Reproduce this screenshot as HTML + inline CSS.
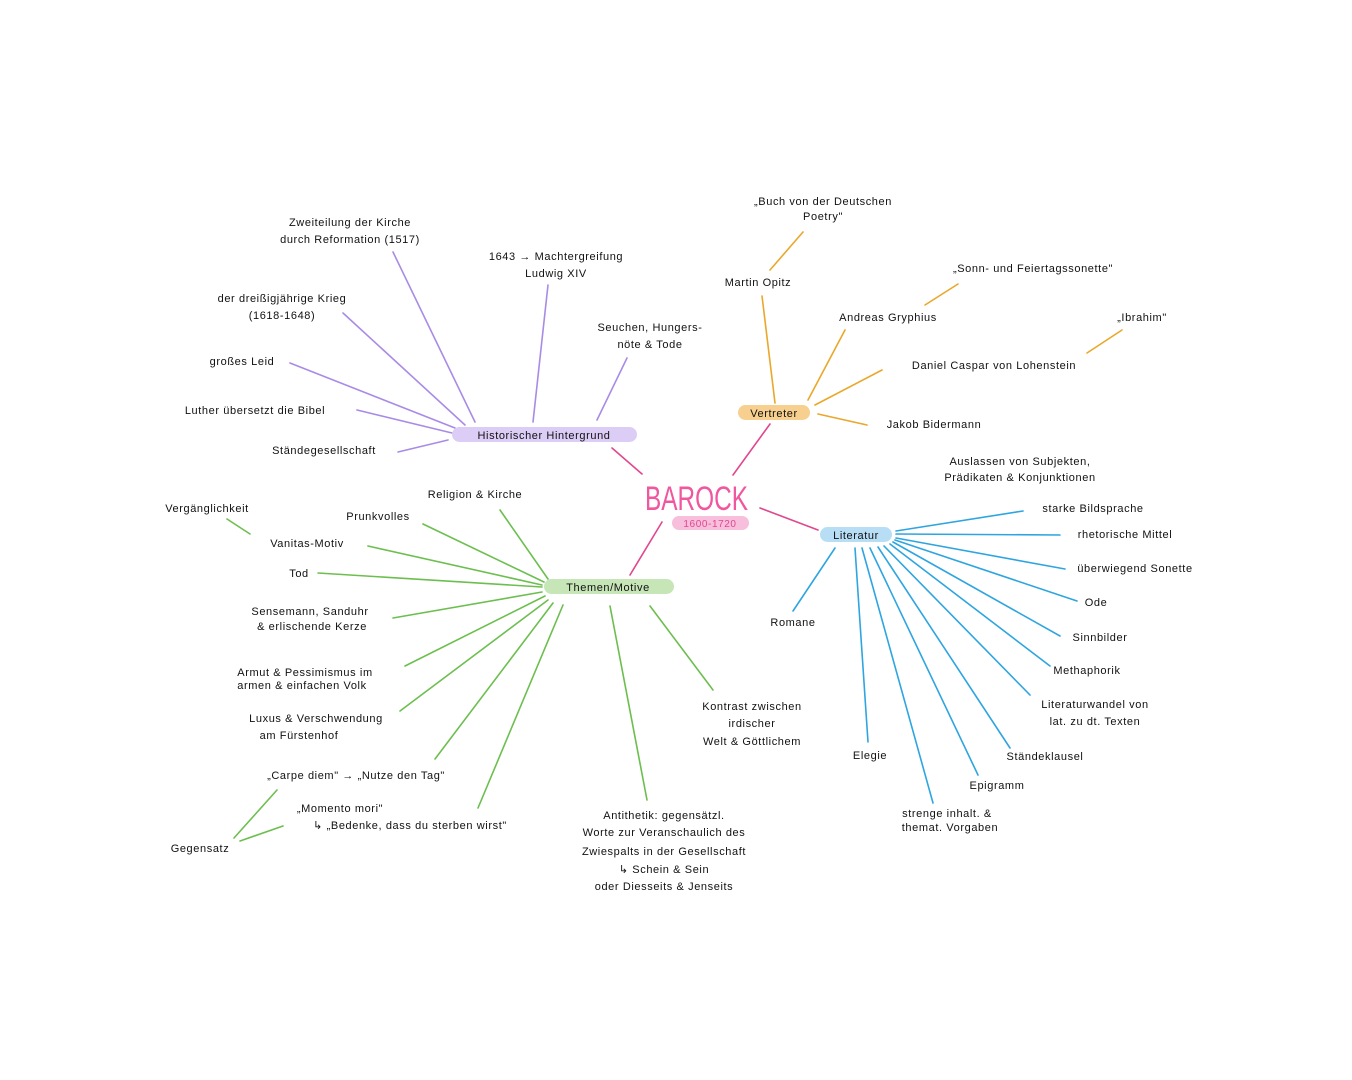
<!DOCTYPE html>
<html><head><meta charset="utf-8"><style>
html,body{margin:0;padding:0;background:#fff;}
svg{display:block;}
text{font-family:"Liberation Sans",sans-serif;font-size:11px;fill:#111;letter-spacing:0.6px;}
</style></head><body>
<svg width="1352" height="1080" viewBox="0 0 1352 1080" xmlns="http://www.w3.org/2000/svg">
<g stroke-linecap="round" fill="none" stroke-width="1.6">
<g stroke="#e0478f">
<line x1="612" y1="448" x2="642" y2="474"/>
<line x1="733" y1="475" x2="770" y2="424"/>
<line x1="760" y1="508" x2="818" y2="530"/>
<line x1="662" y1="522" x2="630" y2="575"/>
</g>
<g stroke="#a98be6">
<line x1="393" y1="252" x2="475" y2="422"/>
<line x1="343" y1="313" x2="465" y2="425"/>
<line x1="290" y1="363" x2="455" y2="428"/>
<line x1="357" y1="410" x2="452" y2="433"/>
<line x1="398" y1="452" x2="448" y2="440"/>
<line x1="548" y1="285" x2="533" y2="422"/>
<line x1="627" y1="358" x2="597" y2="420"/>
</g>
<g stroke="#eaa72a">
<line x1="803" y1="232" x2="770" y2="270"/>
<line x1="762" y1="296" x2="775" y2="403"/>
<line x1="845" y1="330" x2="808" y2="400"/>
<line x1="882" y1="370" x2="815" y2="405"/>
<line x1="818" y1="414" x2="867" y2="425"/>
<line x1="958" y1="284" x2="925" y2="305"/>
<line x1="1122" y1="330" x2="1087" y2="353"/>
</g>
<g stroke="#2ea5e0">
<line x1="896" y1="531" x2="1023" y2="511"/>
<line x1="896" y1="534" x2="1060" y2="535"/>
<line x1="896" y1="538" x2="1065" y2="569"/>
<line x1="895" y1="540" x2="1077" y2="601"/>
<line x1="893" y1="542" x2="1060" y2="636"/>
<line x1="890" y1="544" x2="1050" y2="666"/>
<line x1="884" y1="546" x2="1030" y2="695"/>
<line x1="878" y1="547" x2="1010" y2="748"/>
<line x1="870" y1="548" x2="978" y2="775"/>
<line x1="862" y1="548" x2="933" y2="803"/>
<line x1="855" y1="548" x2="868" y2="742"/>
<line x1="835" y1="548" x2="793" y2="611"/>
</g>
<g stroke="#6cbf4f">
<line x1="500" y1="510" x2="548" y2="579"/>
<line x1="423" y1="524" x2="544" y2="582"/>
<line x1="368" y1="546" x2="542" y2="585"/>
<line x1="318" y1="573" x2="542" y2="587"/>
<line x1="393" y1="618" x2="542" y2="592"/>
<line x1="405" y1="666" x2="545" y2="596"/>
<line x1="400" y1="711" x2="548" y2="600"/>
<line x1="435" y1="759" x2="553" y2="603"/>
<line x1="478" y1="808" x2="563" y2="605"/>
<line x1="610" y1="606" x2="647" y2="800"/>
<line x1="650" y1="606" x2="713" y2="690"/>
<line x1="227" y1="519" x2="250" y2="534"/>
<line x1="234" y1="838" x2="277" y2="790"/>
<line x1="240" y1="841" x2="283" y2="826"/>
</g>
</g>
<rect x="452" y="427" width="185" height="15" rx="7.5" fill="#dccdf6"/>
<text x="544" y="439" text-anchor="middle">Historischer Hintergrund</text>
<rect x="738" y="405" width="72" height="15" rx="7.5" fill="#f7cf8e"/>
<text x="774" y="417" text-anchor="middle">Vertreter</text>
<rect x="820" y="527" width="72" height="15" rx="7.5" fill="#b8def6"/>
<text x="856" y="539" text-anchor="middle">Literatur</text>
<rect x="544" y="579" width="130" height="15" rx="7.5" fill="#c7e6b8"/>
<text x="608" y="591" text-anchor="middle">Themen/Motive</text>
<text x="645" y="510" textLength="103" lengthAdjust="spacingAndGlyphs" style="font-size:34px;fill:#f0579e;letter-spacing:0;">BAROCK</text>
<rect x="672" y="516" width="77" height="14" rx="7" fill="#f7bfdc"/>
<text x="710" y="527" text-anchor="middle" style="fill:#e0478f;font-size:10px;">1600-1720</text>
<text x="350" y="226" text-anchor="middle">Zweiteilung der Kirche</text>
<text x="350" y="243" text-anchor="middle">durch Reformation (1517)</text>
<text x="556" y="260" text-anchor="middle">1643 → Machtergreifung</text>
<text x="556" y="277" text-anchor="middle">Ludwig XIV</text>
<text x="282" y="302" text-anchor="middle">der dreißigjährige Krieg</text>
<text x="282" y="319" text-anchor="middle">(1618-1648)</text>
<text x="242" y="365" text-anchor="middle">großes Leid</text>
<text x="255" y="414" text-anchor="middle">Luther übersetzt die Bibel</text>
<text x="324" y="454" text-anchor="middle">Ständegesellschaft</text>
<text x="650" y="331" text-anchor="middle">Seuchen, Hungers-</text>
<text x="650" y="348" text-anchor="middle">nöte &amp; Tode</text>
<text x="823" y="205" text-anchor="middle">„Buch von der Deutschen</text>
<text x="823" y="220" text-anchor="middle">Poetry"</text>
<text x="758" y="286" text-anchor="middle">Martin Opitz</text>
<text x="1033" y="272" text-anchor="middle">„Sonn- und Feiertagssonette"</text>
<text x="888" y="321" text-anchor="middle">Andreas Gryphius</text>
<text x="1142" y="321" text-anchor="middle">„Ibrahim"</text>
<text x="994" y="369" text-anchor="middle">Daniel Caspar von Lohenstein</text>
<text x="934" y="428" text-anchor="middle">Jakob Bidermann</text>
<text x="1020" y="465" text-anchor="middle">Auslassen von Subjekten,</text>
<text x="1020" y="481" text-anchor="middle">Prädikaten &amp; Konjunktionen</text>
<text x="1093" y="512" text-anchor="middle">starke Bildsprache</text>
<text x="1125" y="538" text-anchor="middle">rhetorische Mittel</text>
<text x="1135" y="572" text-anchor="middle">überwiegend Sonette</text>
<text x="1096" y="606" text-anchor="middle">Ode</text>
<text x="1100" y="641" text-anchor="middle">Sinnbilder</text>
<text x="1087" y="674" text-anchor="middle">Methaphorik</text>
<text x="1095" y="708" text-anchor="middle">Literaturwandel von</text>
<text x="1095" y="725" text-anchor="middle">lat. zu dt. Texten</text>
<text x="1045" y="760" text-anchor="middle">Ständeklausel</text>
<text x="997" y="789" text-anchor="middle">Epigramm</text>
<text x="947" y="817" text-anchor="middle">strenge inhalt. &amp;</text>
<text x="950" y="831" text-anchor="middle">themat. Vorgaben</text>
<text x="870" y="759" text-anchor="middle">Elegie</text>
<text x="793" y="626" text-anchor="middle">Romane</text>
<text x="475" y="498" text-anchor="middle">Religion &amp; Kirche</text>
<text x="378" y="520" text-anchor="middle">Prunkvolles</text>
<text x="207" y="512" text-anchor="middle">Vergänglichkeit</text>
<text x="307" y="547" text-anchor="middle">Vanitas-Motiv</text>
<text x="299" y="577" text-anchor="middle">Tod</text>
<text x="310" y="615" text-anchor="middle">Sensemann, Sanduhr</text>
<text x="312" y="630" text-anchor="middle">&amp; erlischende Kerze</text>
<text x="305" y="676" text-anchor="middle">Armut &amp; Pessimismus im</text>
<text x="302" y="689" text-anchor="middle">armen &amp; einfachen Volk</text>
<text x="316" y="722" text-anchor="middle">Luxus &amp; Verschwendung</text>
<text x="299" y="739" text-anchor="middle">am Fürstenhof</text>
<text x="356" y="779" text-anchor="middle">„Carpe diem" → „Nutze den Tag"</text>
<text x="340" y="812" text-anchor="middle">„Momento mori"</text>
<text x="410" y="829" text-anchor="middle">↳ „Bedenke, dass du sterben wirst"</text>
<text x="200" y="852" text-anchor="middle">Gegensatz</text>
<text x="752" y="710" text-anchor="middle">Kontrast zwischen</text>
<text x="752" y="727" text-anchor="middle">irdischer</text>
<text x="752" y="745" text-anchor="middle">Welt &amp; Göttlichem</text>
<text x="664" y="819" text-anchor="middle">Antithetik: gegensätzl.</text>
<text x="664" y="836" text-anchor="middle">Worte zur Veranschaulich des</text>
<text x="664" y="855" text-anchor="middle">Zwiespalts in der Gesellschaft</text>
<text x="664" y="873" text-anchor="middle">↳ Schein &amp; Sein</text>
<text x="664" y="890" text-anchor="middle">oder Diesseits &amp; Jenseits</text>
</svg>
</body></html>
